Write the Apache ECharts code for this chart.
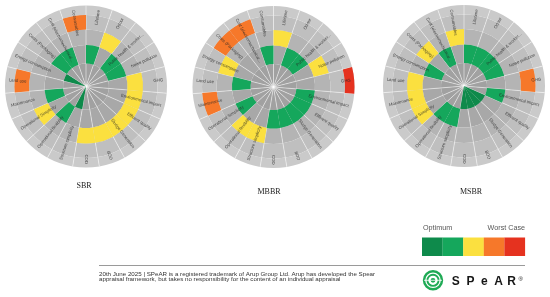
<!DOCTYPE html>
<html><head><meta charset="utf-8">
<script src="https://cdn.jsdelivr.net/npm/echarts@6/dist/echarts.min.js"></script>
<style>html,body{margin:0;padding:0;background:#fff}#c{width:550px;height:297px}</style>
</head><body><div id="c"></div>
<script>
// ---- data ----
const categories = ['Lifetime','Odour','Public health & worker...','Noise pollution','GHG','Environmental impact','Effluent quality','Sludge Generation','BOD','COD','Structure simplicity','Operational flexibility','Operational Simplicity','Maintenance','Land use','Energy consumption','Costs (Packaging)','Cost (electromechanical...','Consumables'];
// rating level per category: 1 = optimum (dark green) ... 5 = worst case (red)
const sbrLevels  = [2,3,2,2,3,3,3,3,3,3,1,2,3,2,4,1,2,2,4];
const mbbrLevels = [3,2,2,3,5,2,2,2,2,2,3,3,2,4,2,3,4,4,2];
const msbrLevels = [2,2,2,2,4,2,1,1,1,1,2,2,3,3,3,2,3,2,3];
const diagramTitles = ['SBR','MBBR','MSBR'];
const legendLabels = ['Optimum','Worst Case'];
const footerLines = ['20th June 2025 | SPeAR is a registered trademark of Arup Group Ltd. Arup has developed the Spear','appraisal framework, but takes no responsibility for the content of an individual appraisal'];
const levelColors = ['#0e8a4b','#15a75c','#fbe03f','#f6782a','#e5321f'];
const ringEdges = [0, 23, 41.5, 57, 71.5, 81];

// ---- styling ----
const ringGreys = ['#a1a1a1','#a8a8a8','#b4b4b4','#bfbfbf','#cacaca'];
const centers = [[86,86.5],[273.5,87],[464,86]];
const R = 81, LABEL_R = 77.5, N = categories.length;
const levelSets = [sbrLevels, mbbrLevels, msbrLevels];

const polar = centers.map(c => ({center: c, radius: [0, R]}));
const angleAxis = centers.map((c,k) => ({
  polarIndex:k, type:'category', data: categories, startAngle: 90, clockwise: true, boundaryGap: true, z: 2,
  axisLine:{show:false}, axisTick:{show:false}, axisLabel:{show:false},
  splitLine:{show:true, lineStyle:{color:'rgba(255,255,255,0.7)', width:0.7}}
}));
const radiusAxis = centers.map((c,k) => ({polarIndex:k, type:'value', min:0, max:R, show:false, splitLine:{show:false}}));

const series = [];
levelSets.forEach((levels,k) => {
  ringGreys.forEach((g,j) => {
    series.push({type:'bar', coordinateSystem:'polar', polarIndex:k, stack:'bg'+k, z:1, silent:true,
      barGap:'-100%', barCategoryGap:'0%', itemStyle:{color:g},
      data: categories.map(() => ringEdges[j+1]-ringEdges[j])});
  });
  series.push({type:'bar', coordinateSystem:'polar', polarIndex:k, stack:'fg'+k, z:3, silent:true,
    barGap:'-100%', barCategoryGap:'0%', itemStyle:{color:'rgba(0,0,0,0)'},
    data: levels.map(l => ringEdges[l-1])});
  series.push({type:'bar', coordinateSystem:'polar', polarIndex:k, stack:'fg'+k, z:3, silent:true,
    barGap:'-100%', barCategoryGap:'0%',
    data: levels.map(l => ({value: ringEdges[l]-ringEdges[l-1], itemStyle:{color: levelColors[l-1]}}))});
  series.push({type:'scatter', coordinateSystem:'polar', polarIndex:k, z:4, silent:true, symbolSize:1,
    itemStyle:{color:'rgba(0,0,0,0)'},
    label:{show:true, position:'inside', formatter: p => categories[p.dataIndex], fontSize:4.3,
      fontFamily:'Liberation Sans, Arial, sans-serif', color:'#262626', verticalAlign:'middle'},
    data: categories.map((name,i) => {
      const th = (i+0.5)*360/N; const right = th <= 180;
      return {value:[LABEL_R, i], label:{rotate: right ? 90-th : 270-th, align: right ? 'right' : 'left'}};
    })});
});

const graphic = [];
const titlePos = [[84,186],[269,192],[471,192]];
diagramTitles.forEach((t,i) => graphic.push({type:'text', x:titlePos[i][0], y:titlePos[i][1],
  style:{text:t, font:'8px "Liberation Serif", serif', fill:'#222', align:'center', verticalAlign:'middle'}}));
// legend
graphic.push({type:'text', x:423, y:228.5, style:{text:legendLabels[0], font:'7.2px "Liberation Sans", Arial', fill:'#555', align:'left', verticalAlign:'middle'}});
graphic.push({type:'text', x:525, y:228.5, style:{text:legendLabels[1], font:'7.2px "Liberation Sans", Arial', fill:'#555', align:'right', verticalAlign:'middle'}});
levelColors.forEach((c,i) => graphic.push({type:'rect', shape:{x:422+i*20.6, y:237.5, width:20.7, height:18.5}, style:{fill:c}}));
// rule
graphic.push({type:'line', shape:{x1:99, y1:265.5, x2:525, y2:265.5}, style:{stroke:'#9a9a9a', lineWidth:1}});
footerLines.forEach((t,i) => graphic.push({type:'text', x:99, y:274+i*5.4,
  style:{text:t, font:'6.2px "Liberation Sans", Arial', fill:'#333', align:'left', verticalAlign:'middle'}}));
// logo
const lg = '#1faa55';
graphic.push({type:'circle', shape:{cx:433, cy:280.3, r:9}, style:{fill:'none', stroke:lg, lineWidth:2.4}});
graphic.push({type:'circle', shape:{cx:433, cy:280.3, r:5.6}, style:{fill:'none', stroke:lg, lineWidth:1.9}});
graphic.push({type:'circle', shape:{cx:433, cy:280.3, r:2.4}, style:{fill:lg}});
graphic.push({type:'line', shape:{x1:424, y1:280.3, x2:442, y2:280.3}, style:{stroke:'#fff', lineWidth:0.8}});
const letters = ['S','P','e','A','R'];
const letterX = [451.7, 466.5, 481, 494.3, 507.3];
letters.forEach((l,i) => graphic.push({type:'text', x:letterX[i], y:288,
  style:{text:l, font:'bold 12px "Liberation Sans", Arial', fill:'#161616', align:'left', verticalAlign:'bottom'}}));
graphic.push({type:'text', x:518.5, y:279.5, style:{text:'®', font:'6px "Liberation Sans", Arial', fill:'#161616', align:'left', verticalAlign:'middle'}});

const chart = echarts.init(document.getElementById('c'), null, {renderer:'canvas'});
chart.setOption({animation:false, polar, angleAxis, radiusAxis, series, graphic});
</script></body></html>
